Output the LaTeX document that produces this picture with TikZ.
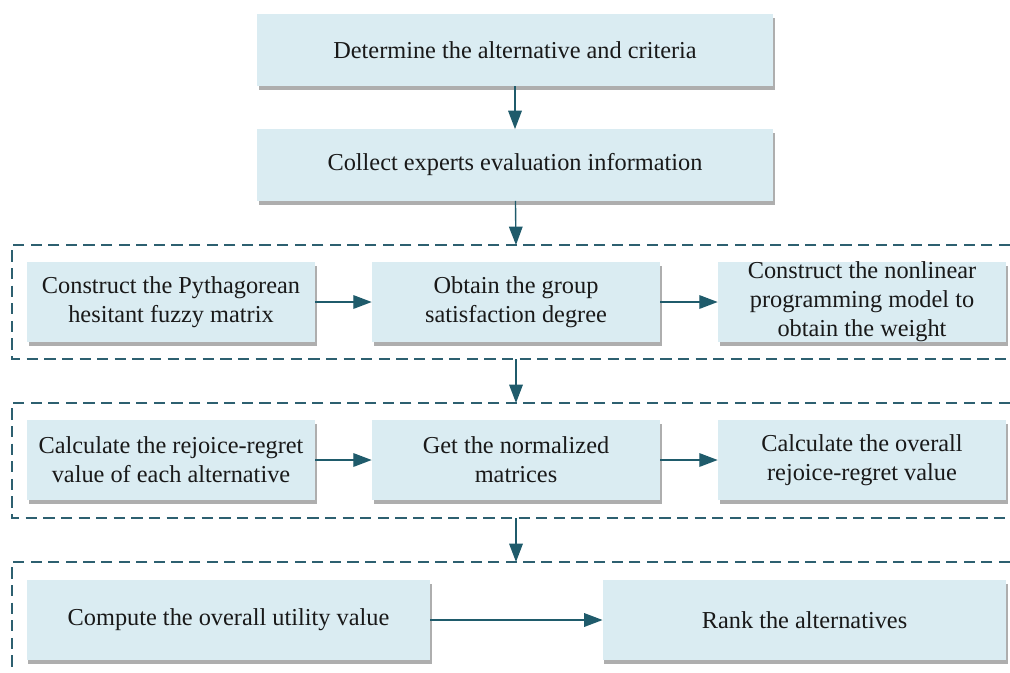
\documentclass[tikz,border=0pt]{standalone}
\usepackage{fontspec}
\setmainfont{Liberation Serif}
\usetikzlibrary{arrows.meta,shadows}

\definecolor{stepfill}{HTML}{DAECF2}
\definecolor{framecol}{HTML}{2D6070}
\definecolor{flowcol}{HTML}{1F5B6B}

\tikzset{
	stepbox/.style={fill=stepfill, text=black!90, align=center,
		font=\fontsize{17.3}{20.5}\selectfont, inner sep=0pt,
		drop shadow={shadow xshift=0.04cm, shadow yshift=-0.1cm, fill=black!70, opacity=0.45}},
	midbox/.style={stepbox, minimum width=7.2cm, minimum height=2.02cm},
	frame/.style={draw=framecol, line width=1.7pt, dash pattern=on 0.28cm off 0.16cm},
	flow/.style={draw=flowcol, line width=1pt, -{Triangle[length=0.46cm, width=0.34cm]}, flowcol}
}

\begin{document}
\begin{tikzpicture}[x=0.025cm, y=-0.025cm]
	\useasboundingbox (0,0) rectangle (1010,672);
	% first two steps
	\node [stepbox, minimum width=12.9cm, minimum height=1.8cm] (determine) at (515,50) {Determine the alternative and criteria};
	\node [stepbox, minimum width=12.9cm, minimum height=1.78cm] (collect) at (515,165) {Collect experts evaluation information};
	% dashed frames, open on the right
	\foreach \name/\ytop/\ybot in {weight/245/359, regret/403/518}
	{
		\draw [frame] (1010,\ytop) -| (12,\ybot) -- (1010,\ybot);
		\coordinate (\name-top) at (516,\ytop);
		\coordinate (\name-bot) at (516,\ybot);
	}
	\draw [frame] (1010,562) -| (12,672);
	\coordinate (rank-top) at (516,562);
	% weight frame
	\node [midbox] (pyth) at (171,302) {Construct the Pythagorean\\hesitant fuzzy matrix};
	\node [midbox] (satis) at (516,302) {Obtain the group\\satisfaction degree};
	\node [midbox] (nlp) at (862,302) {Construct the nonlinear\\programming model to\\obtain the weight};
	% rejoice-regret frame
	\node [midbox] (rejoice) at (171,460) {Calculate the rejoice-regret\\value of each alternative};
	\node [midbox] (normal) at (516,460) {Get the normalized\\matrices};
	\node [midbox] (overall) at (862,460) {Calculate the overall\\rejoice-regret value};
	% last frame
	\node [stepbox, minimum width=10.08cm, minimum height=2.0cm] (utility) at (228.5,620) {Compute the overall utility value};
	\node [stepbox, minimum width=10.08cm, minimum height=2.0cm] (ranking) at (804.5,620) {Rank the alternatives};
	\foreach \no/\nt in {determine/collect, collect/weight-top, weight-bot/regret-top, regret-bot/rank-top,
		pyth/satis, satis/nlp, rejoice/normal, normal/overall, utility/ranking}
	{
		\draw [flow] (\no) -- (\nt);
	}
\end{tikzpicture}
\end{document}
